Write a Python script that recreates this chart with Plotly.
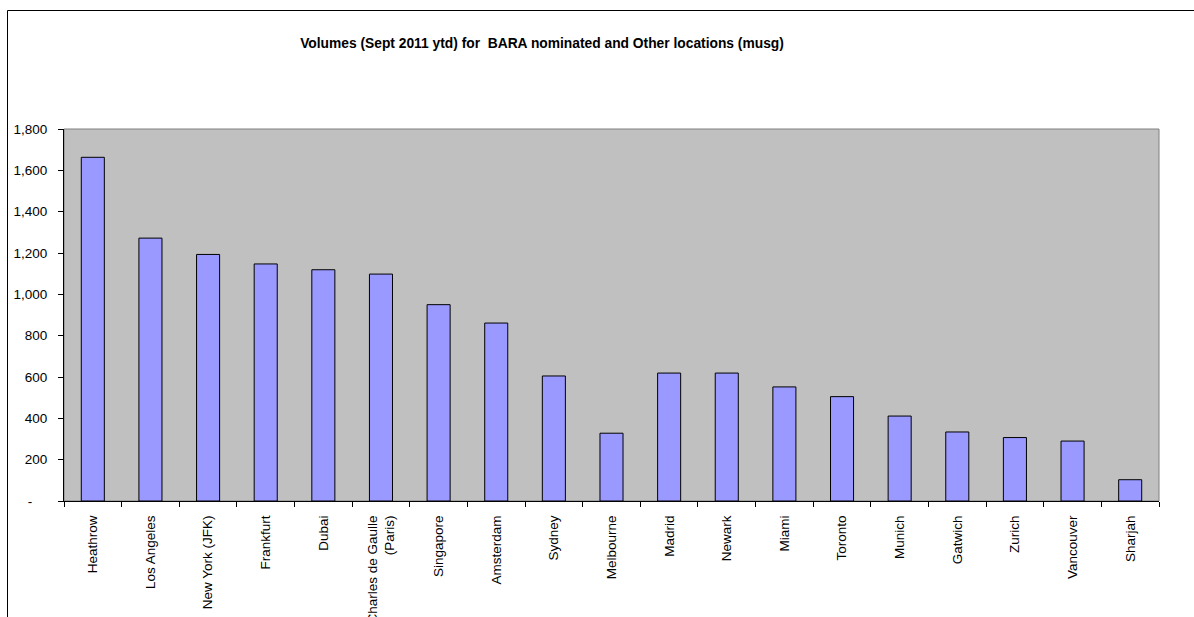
import plotly.graph_objects as go

categories = ["Heathrow", "Los Angeles", "New York (JFK)", "Frankfurt", "Dubai",
              "Charles de Gaulle<br>(Paris)", "Singapore", "Amsterdam", "Sydney",
              "Melbourne", "Madrid", "Newark", "Miami", "Toronto", "Munich",
              "Gatwich", "Zurich", "Vancouver", "Sharjah"]
volumes = [1663, 1272, 1193, 1147, 1119, 1098, 950, 861, 605,
           328, 619, 619, 552, 505, 411, 334, 307, 290, 103]
ytick_vals = [0, 200, 400, 600, 800, 1000, 1200, 1400, 1600, 1800]
ytick_text = ["-\u00a0\u00a0\u00a0\u00a0", "200", "400", "600", "800", "1,000",
              "1,200", "1,400", "1,600", "1,800"]

W, H = 1194, 617
L, R, T, B = 64, 35, 129, 116
pw, ph = W - L - R, H - T - B

fig = go.Figure()
fig.add_trace(go.Bar(
    x=categories, y=volumes,
    marker=dict(color="#9999FF", line=dict(color="black", width=1)),
    width=0.4,
))

def px_x(p):
    return (p - L) / pw

def px_y(p):
    return (H - B - p) / ph

fig.update_layout(
    width=W, height=H,
    margin=dict(l=L, r=R, t=T, b=B, autoexpand=False),
    paper_bgcolor="white",
    plot_bgcolor="#C0C0C0",
    showlegend=False,
    font=dict(family="Liberation Sans, Arial", size=13.5, color="black"),
    title=dict(
        text="<b>Volumes (Sept 2011 ytd) for  BARA nominated and Other locations (musg)</b>",
        x=px_x(542), xanchor="center", xref="paper",
        y=1 - 43 / H, yanchor="middle", yref="container",
        font=dict(size=13.8, color="black"),
    ),
    xaxis=dict(
        type="category",
        tickangle=-90,
        automargin=False,
        showline=True, linecolor="black", linewidth=1,
        ticks="outside", ticklen=5, tickcolor="black", tickson="boundaries",
        showgrid=False, zeroline=False,
        tickfont=dict(size=13.5),
        ticklabelstandoff=8,
        range=[-0.5, len(categories) - 0.5],
    ),
    yaxis=dict(
        range=[0, 1800],
        automargin=False,
        tickvals=ytick_vals, ticktext=ytick_text,
        showline=True, linecolor="black", linewidth=1,
        ticks="outside", ticklen=5, tickcolor="black",
        showgrid=False, zeroline=False,
        tickfont=dict(size=13.5),
        ticklabelstandoff=8,
    ),
    shapes=[
        dict(type="rect", xref="paper", yref="paper", x0=0, x1=1, y0=0, y1=1,
             line=dict(color="#808080", width=1), layer="below"),
        dict(type="rect", xref="paper", yref="paper",
             x0=px_x(7.5), x1=px_x(1210), y0=px_y(640), y1=px_y(10.5),
             line=dict(color="black", width=1)),
    ],
)

fig.write_html("out.html")
